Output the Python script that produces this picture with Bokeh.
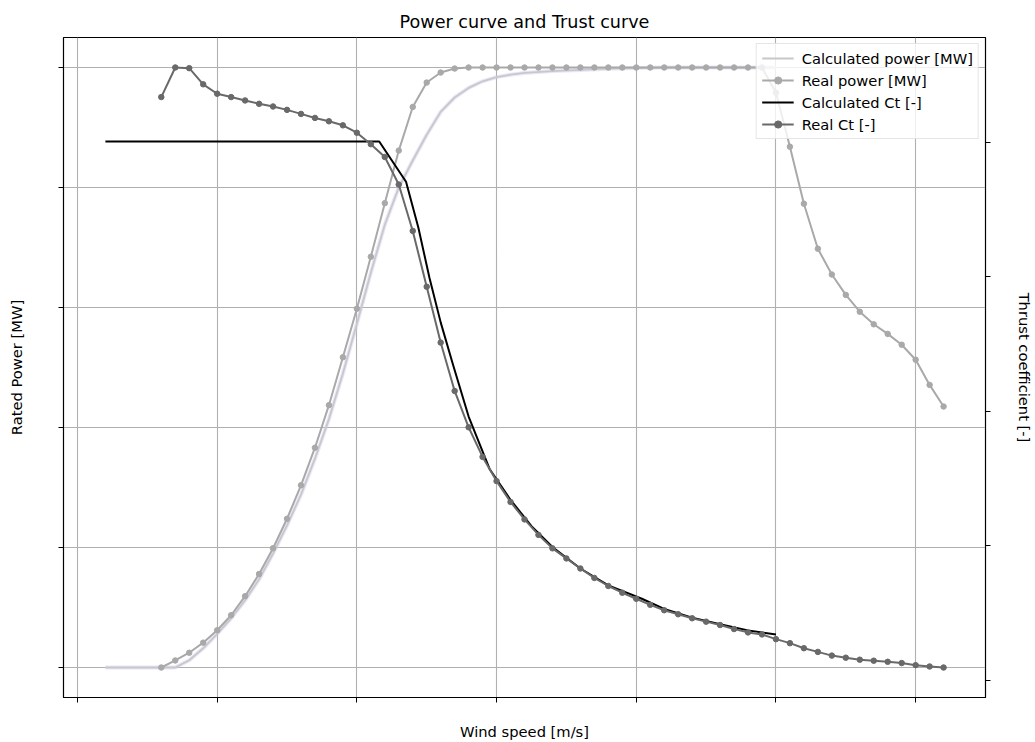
from bokeh.plotting import figure
from bokeh.models import (Range1d, LinearAxis, FixedTicker, Legend, LegendItem,
                          CustomJSTickFormatter)
from bokeh.embed import file_html
from bokeh.resources import INLINE

# ---------------- data ----------------
real_ws = [3.0, 3.5, 4.0, 4.5, 5.0, 5.5, 6.0, 6.5, 7.0, 7.5, 8.0, 8.5, 9.0, 9.5,
           10.0, 10.5, 11.0, 11.5, 12.0, 12.5, 13.0, 13.5, 14.0, 14.5, 15.0, 15.5,
           16.0, 16.5, 17.0, 17.5, 18.0, 18.5, 19.0, 19.5, 20.0, 20.5, 21.0, 21.5,
           22.0, 22.5, 23.0, 23.5, 24.0, 24.5, 25.0, 25.5, 26.0, 26.5, 27.0, 27.5,
           28.0, 28.5, 29.0, 29.5, 30.0, 30.5, 31.0]

real_power = [0.0, 0.117, 0.246, 0.414, 0.620, 0.871, 1.189, 1.558, 1.988, 2.479,
              3.037, 3.663, 4.372, 5.171, 5.980, 6.846, 7.739, 8.615, 9.342, 9.749,
              9.916, 9.983, 10.0, 10.0, 10.0, 10.0, 10.0, 10.0, 10.0, 10.0, 10.0,
              10.0, 10.0, 10.0, 10.0, 10.0, 10.0, 10.0, 10.0, 10.0, 10.0, 10.0, 10.0,
              10.0, 9.58, 8.68, 7.73, 6.98, 6.55, 6.21, 5.93, 5.72, 5.56, 5.38, 5.13,
              4.71, 4.35]

real_ct = [0.867, 0.911, 0.910, 0.886, 0.872, 0.867, 0.862, 0.857, 0.853, 0.848,
           0.842, 0.836, 0.831, 0.825, 0.814, 0.797, 0.778, 0.737, 0.668, 0.585,
           0.502, 0.430, 0.376, 0.332, 0.296, 0.265, 0.239, 0.216, 0.196, 0.181,
           0.166, 0.152, 0.140, 0.130, 0.121, 0.112, 0.104, 0.098, 0.092, 0.087,
           0.082, 0.076, 0.071, 0.068, 0.061, 0.055, 0.0475, 0.042, 0.0365, 0.0334,
           0.0304, 0.0289, 0.0273, 0.0254, 0.0223, 0.0203, 0.0188]

calc_power_ws = [1.0, 2.0, 3.0, 3.5, 4.0, 4.5, 5.0, 5.5, 6.0, 6.5, 7.0, 7.5, 8.0, 8.5,
                 9.0, 9.5, 10.0, 10.5, 11.0, 11.5, 12.0, 12.5, 13.0, 13.5, 14.0, 14.5,
                 15.0, 15.5, 16.0, 17.0, 18.0, 19.0, 20.0, 21.0, 22.0, 23.0, 24.0, 25.0]
calc_power = [0.0, 0.0, 0.0, 0.0, 0.12, 0.32, 0.56, 0.82, 1.12, 1.47, 1.90, 2.37, 2.88,
              3.48, 4.14, 4.90, 5.73, 6.58, 7.38, 8.00, 8.45, 8.88, 9.26, 9.50, 9.66,
              9.77, 9.84, 9.88, 9.91, 9.94, 9.96, 9.98, 9.99, 10.0, 10.0, 10.0, 10.0, 10.0]

calc_ct_ws = [1.0, 10.8, 11.76, 12.2, 12.6, 13.0, 13.45, 14.0, 14.75, 15.5, 16.25,
              17.0, 18.0, 19.0, 20.2, 21.0, 22.0, 23.0, 24.0, 25.0]
calc_ct = [0.801, 0.801, 0.741, 0.673, 0.598, 0.532, 0.468, 0.392, 0.314, 0.268, 0.229,
           0.198, 0.166, 0.141, 0.121, 0.106, 0.093, 0.083, 0.074, 0.068]

x_ticks = [0, 5, 10, 15, 20, 25, 30]
power_ticks = [0, 2, 4, 6, 8, 10]
ct_ticks = [0.0, 0.2, 0.4, 0.6, 0.8]

title = "Power curve and Trust curve"
x_label = "Wind speed [m/s]"
y_label = "Rated Power [MW]"
y2_label = "Thrust coefficient [-]"
labels = ["Calculated power [MW]", "Real power [MW]", "Calculated Ct [-]", "Real Ct [-]"]

FONT = "DejaVu Sans"

# ---------------- figure ----------------
p = figure(width=1035, height=742, output_backend="svg", toolbar_location=None,
           x_range=Range1d(-0.5, 32.5), y_range=Range1d(-0.5, 10.5),
           min_border_left=63, min_border_right=50, min_border_top=37,
           min_border_bottom=45)
p.extra_y_ranges = {"ct": Range1d(-0.0258, 0.9556)}

p.title.text = title
p.title.align = "center"
p.title.text_font = FONT
p.title.text_font_size = "17.6px"
p.title.text_font_style = "normal"
p.title.text_color = "black"
p.title.standoff = 12

p.outline_line_color = "black"
p.outline_line_width = 1.2
p.outline_line_alpha = 1.0

blank = CustomJSTickFormatter(code="return '';")

def style_axis(ax, ticks, label, standoff):
    ax.ticker = FixedTicker(ticks=ticks)
    ax.formatter = blank
    ax.axis_label = label
    ax.axis_label_text_font = FONT
    ax.axis_label_text_font_size = "14.7px"
    ax.axis_label_text_font_style = "normal"
    ax.axis_label_text_color = "black"
    ax.axis_label_standoff = standoff
    ax.major_label_standoff = 0
    ax.major_tick_out = 5
    ax.major_tick_in = 0
    ax.minor_tick_out = 0
    ax.minor_tick_in = 0
    ax.major_tick_line_color = "black"
    ax.axis_line_color = "black"

style_axis(p.xaxis[0], x_ticks, x_label, 20)
style_axis(p.yaxis[0], power_ticks, y_label, 34)

ax2 = LinearAxis(y_range_name="ct")
style_axis(ax2, ct_ticks, y2_label, 25)
p.add_layout(ax2, "right")

p.xgrid.ticker = FixedTicker(ticks=x_ticks)
p.ygrid.ticker = FixedTicker(ticks=power_ticks)
for g in (p.xgrid[0], p.ygrid[0]):
    g.grid_line_color = "#b0b0b0"
    g.grid_line_width = 1.1

# ---------------- glyphs ----------------
p.line(calc_power_ws, calc_power, line_color="#c9c9f3", line_width=4, line_alpha=0.45)
r_cp = p.line(calc_power_ws, calc_power, line_color="#c8c8c8", line_width=1.8)

r_rp_l = p.line(real_ws, real_power, line_color="#a9a9a9", line_width=2)
r_rp_m = p.scatter(real_ws, real_power, marker="circle", size=5.5,
                   fill_color="#a9a9a9", line_color="#a9a9a9")

r_cc = p.line(calc_ct_ws, calc_ct, line_color="black", line_width=2, y_range_name="ct")

r_rc_l = p.line(real_ws, real_ct, line_color="#696969", line_width=2, y_range_name="ct")
r_rc_m = p.scatter(real_ws, real_ct, marker="circle", size=5.5, fill_color="#696969",
                   line_color="#696969", y_range_name="ct")

legend = Legend(items=[
    LegendItem(label=labels[0], renderers=[r_cp]),
    LegendItem(label=labels[1], renderers=[r_rp_l, r_rp_m]),
    LegendItem(label=labels[2], renderers=[r_cc]),
    LegendItem(label=labels[3], renderers=[r_rc_l, r_rc_m]),
], location="top_right")
legend.margin = 6
legend.padding = 5
legend.spacing = 4
legend.glyph_width = 32
legend.glyph_height = 18
legend.label_height = 18
legend.label_standoff = 8
legend.label_text_font = FONT
legend.label_text_font_size = "14.7px"
legend.label_text_color = "black"
legend.border_line_color = "#cccccc"
legend.border_line_width = 1
legend.background_fill_color = "white"
legend.background_fill_alpha = 0.8
p.add_layout(legend)

open("out.html", "w").write(file_html(p, INLINE))
